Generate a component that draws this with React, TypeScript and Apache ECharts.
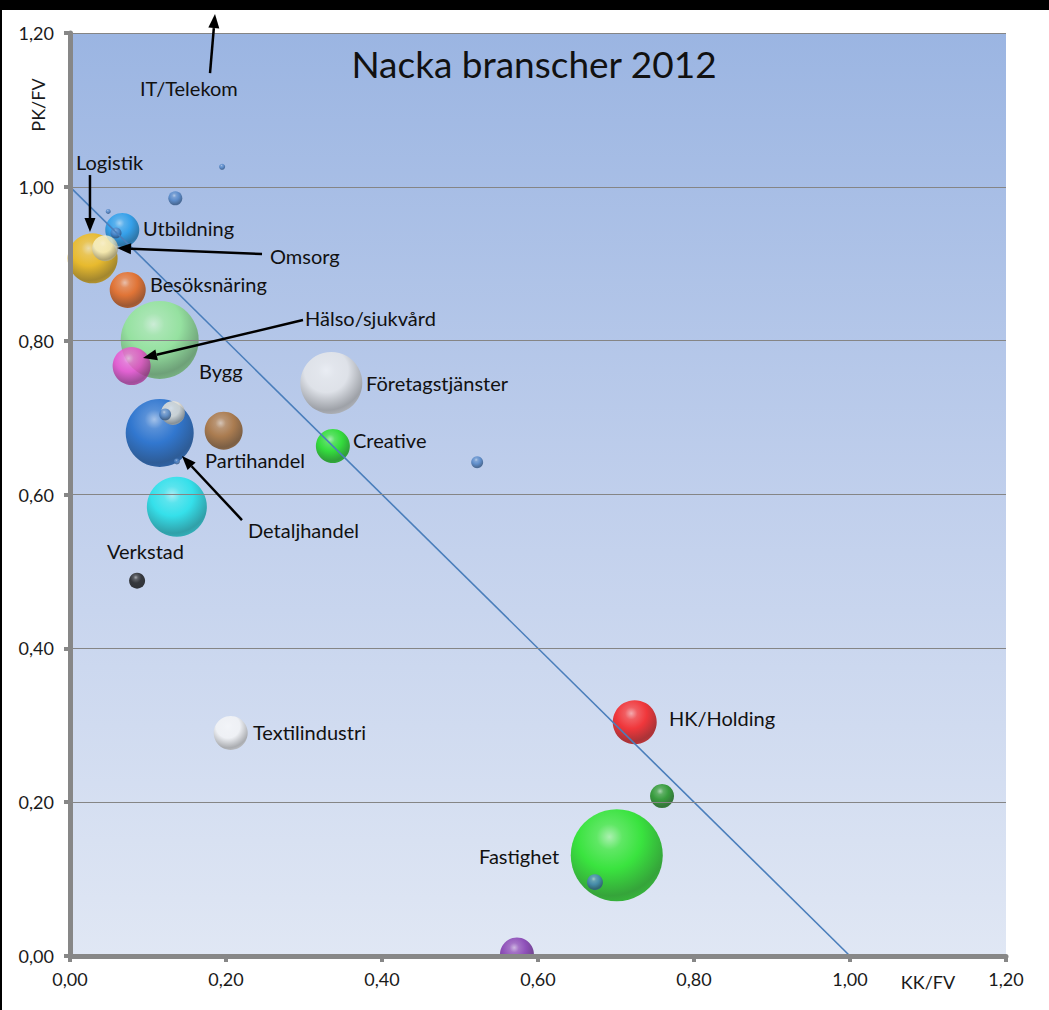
import React, { useEffect, useRef } from "react";
import * as echarts from "echarts";

// ---- Data ----
const bubbleNames = [
  "Fastighet", "Bygg", "Detaljhandel", "Företagstjänster", "Övrig handel",
  "Logistik", "HK/Holding", "Besöksnäring", "Partihandel", "Hälso/sjukvård",
  "Utbildning", "Creative", "Textilindustri", "Övrig industri", "Omsorg",
  "Övrig service", "Energi", "Verkstad",
  "Liten A", "Liten B", "Liten C", "Liten D", "Liten E", "Liten F", "Liten G", "Liten H",
];
const kkfv = [
  0.701, 0.115, 0.115, 0.335, 0.137,
  0.029, 0.724, 0.074, 0.197, 0.079,
  0.067, 0.337, 0.206, 0.573, 0.045,
  0.132, 0.759, 0.086,
  0.135, 0.122, 0.059, 0.522, 0.673, 0.195, 0.049, 0.137,
];
const pkfv = [
  0.131, 0.801, 0.680, 0.745, 0.584,
  0.907, 0.304, 0.866, 0.683, 0.767,
  0.944, 0.663, 0.290, 0.002, 0.920,
  0.706, 0.208, 0.488,
  0.985, 0.704, 0.940, 0.642, 0.096, 1.026, 0.968, 0.643,
];
const bubbleSize = [
  92, 78, 68, 62, 60,
  50, 44, 36, 38, 38,
  34, 34, 34, 34, 26,
  24, 24, 16,
  14, 12, 11, 12, 16, 6, 5, 6,
];
const bubbleColors = [
  "#12e412", "#8ee88e", "#0f62c8", "#e8e8e8", "#12e4ea",
  "#f6b800", "#f80e0e", "#ec600a", "#a6682a", "#ec48cc",
  "#1898ea", "#12e012", "#f6f6f6", "#7a2aaa", "#f6f2cc",
  "#ece6d6", "#128c12", "#111111",
  "#4a80c4", "#4a80c4", "#4a80c4", "#4a80c4", "#4a80c4", "#4a80c4", "#4a80c4", "#4a80c4",
];

const refLine = [[0, 1], [1, 0]];

const labelTexts = [
  "IT/Telekom", "Logistik", "Utbildning", "Omsorg", "Besöksnäring",
  "Hälso/sjukvård", "Bygg", "Företagstjänster", "Creative", "Partihandel",
  "Detaljhandel", "Verkstad", "Textilindustri", "HK/Holding", "Fastighet",
];
const labelX = [
  0.0897, 0.0077, 0.0936, 0.2564, 0.1026,
  0.3013, 0.1654, 0.3795, 0.3628, 0.1731,
  0.2282, 0.0474, 0.2346, 0.7679, 0.5244,
];
const labelY = [
  1.1284, 1.0322, 0.9464, 0.9100, 0.8736,
  0.8294, 0.7605, 0.7449, 0.6708, 0.6448,
  0.5538, 0.5265, 0.2912, 0.3094, 0.1300,
];

const arrowFrom = [
  [0.1795, 1.1479], [0.0256, 1.0153], [0.2462, 0.9126], [0.2987, 0.8268], [0.2205, 0.5668],
];
const arrowTo = [
  [0.1859, 1.2246], [0.0256, 0.9412], [0.0603, 0.9204], [0.0936, 0.7774], [0.1436, 0.65],
];

const axisMin = 0;
const axisMax = 1.2;
const axisStep = 0.2;

const FONT = "Lato, 'Open Sans', sans-serif";

function hexToRgb(h: string) {
  const n = parseInt(h.slice(1), 16);
  return [(n >> 16) & 255, (n >> 8) & 255, n & 255];
}
function mix(c: string, t: string, k: number) {
  const a = hexToRgb(c);
  const b = hexToRgb(t);
  const r = a.map((v, i) => Math.round(v + (b[i] - v) * k));
  return `rgb(${r[0]},${r[1]},${r[2]})`;
}
function sphere(c: string) {
  return {
    type: "radial",
    x: 0.42,
    y: 0.3,
    r: 0.78,
    colorStops: [
      { offset: 0, color: mix(c, "#ffffff", 0.6) },
      { offset: 0.18, color: mix(c, "#ffffff", 0.2) },
      { offset: 0.45, color: c },
      { offset: 0.82, color: mix(c, "#000000", 0.35) },
      { offset: 1, color: mix(c, "#000000", 0.2) },
    ],
  };
}

const fmt = (v: number) => v.toFixed(2).replace(".", ",");

export default function App() {
  const ref = useRef<HTMLDivElement>(null);
  useEffect(() => {
    document.body.style.margin = "0";
    const chart = echarts.init(ref.current!, null, { renderer: "svg" });
    const bubbles = kkfv.map((x, i) => ({
      name: bubbleNames[i],
      value: [x, pkfv[i], bubbleSize[i]],
      itemStyle: { color: sphere(bubbleColors[i]) },
    }));
    const axisCommon = {
      type: "value",
      min: axisMin,
      max: axisMax,
      interval: axisStep,
      z: 10,
      axisLine: { show: true, lineStyle: { color: "#878787", width: 5 } },
      axisTick: { show: true, length: 6, lineStyle: { color: "#878787", width: 4 } },
      axisLabel: {
        formatter: fmt,
        fontFamily: FONT,
        fontSize: 18,
        color: "#1a1a1a",
      },
    };
    chart.setOption({
      animation: false,
      backgroundColor: "#ffffff",
      grid: {
        left: 70,
        top: 33,
        width: 936,
        height: 923,
        show: true,
        borderWidth: 0,
        backgroundColor: {
          type: "linear",
          x: 0, y: 0, x2: 0, y2: 1,
          colorStops: [
            { offset: 0, color: "#9bb5e2" },
            { offset: 0.5, color: "#c0cfec" },
            { offset: 1, color: "#e0e7f4" },
          ],
        },
      },
      xAxis: {
        ...axisCommon,
        splitLine: { show: false },
        axisLabel: { ...axisCommon.axisLabel, margin: 14 },
      },
      yAxis: {
        ...axisCommon,
        splitLine: { show: true, lineStyle: { color: "#858585", width: 1 } },
        axisLabel: { ...axisCommon.axisLabel, margin: 16 },
      },
      series: [
        {
          type: "scatter",
          data: bubbles,
          symbolSize: (v: number[]) => v[2],
          clip: true,
          z: 3,
        },
        {
          type: "line",
          data: refLine,
          symbol: "none",
          lineStyle: { color: "#4a7ebb", width: 1.6 },
          z: 4,
        },
      ],
    });

    const px = (p: number[]) => chart.convertToPixel({ gridIndex: 0 }, p) as number[];
    const origin = px([axisMin, axisMin]);
    const graphics: any[] = [
      // mask below the plot area so bubbles are cut at the x axis
      {
        type: "rect",
        shape: { x: 0, y: origin[1] + 1, width: 1049, height: 1010 - origin[1] },
        style: { fill: "#ffffff" },
        z: 5,
      },
      { type: "rect", shape: { x: 0, y: 0, width: 1049, height: 10 }, style: { fill: "#000" }, z: 100 },
      { type: "rect", shape: { x: 0, y: 0, width: 2, height: 1010 }, style: { fill: "#000" }, z: 100 },
      {
        type: "text",
        x: 534,
        y: 63,
        style: {
          text: "Nacka branscher 2012",
          fontFamily: FONT,
          fontSize: 37,
          fill: "#111",
          align: "center",
          verticalAlign: "middle",
        },
        z: 100,
      },
      {
        type: "text",
        x: 38,
        y: 105,
        rotation: Math.PI / 2,
        style: {
          text: "PK/FV",
          fontFamily: FONT,
          fontSize: 18,
          fill: "#1a1a1a",
          align: "center",
          verticalAlign: "middle",
        },
        z: 100,
      },
      {
        type: "text",
        x: 928,
        y: 982,
        style: {
          text: "KK/FV",
          fontFamily: FONT,
          fontSize: 18,
          fill: "#1a1a1a",
          align: "center",
          verticalAlign: "middle",
        },
        z: 100,
      },
    ];
    labelTexts.forEach((t, i) => {
      const p = px([labelX[i], labelY[i]]);
      graphics.push({
        type: "text",
        x: p[0],
        y: p[1],
        style: {
          text: t,
          fontFamily: FONT,
          fontSize: 20,
          fill: "#111",
          align: "left",
          verticalAlign: "middle",
        },
        z: 100,
      });
    });
    arrowFrom.forEach((f, i) => {
      const a = px(f);
      const b = px(arrowTo[i]);
      const dx = b[0] - a[0];
      const dy = b[1] - a[1];
      const len = Math.hypot(dx, dy);
      const ux = dx / len;
      const uy = dy / len;
      const hl = 14;
      const hw = 5.5;
      const bx = b[0] - ux * hl;
      const by = b[1] - uy * hl;
      graphics.push({
        type: "line",
        shape: { x1: a[0], y1: a[1], x2: bx, y2: by },
        style: { stroke: "#000", lineWidth: 2.5 },
        z: 100,
      });
      graphics.push({
        type: "polygon",
        shape: {
          points: [
            [b[0], b[1]],
            [bx - uy * hw, by + ux * hw],
            [bx + uy * hw, by - ux * hw],
          ],
        },
        style: { fill: "#000" },
        z: 100,
      });
    });
    chart.setOption({ graphic: graphics });
    return () => chart.dispose();
  }, []);
  return (
    <div
      ref={ref}
      style={{ position: "absolute", left: 0, top: 0, width: 1049, height: 1010 }}
    />
  );
}
